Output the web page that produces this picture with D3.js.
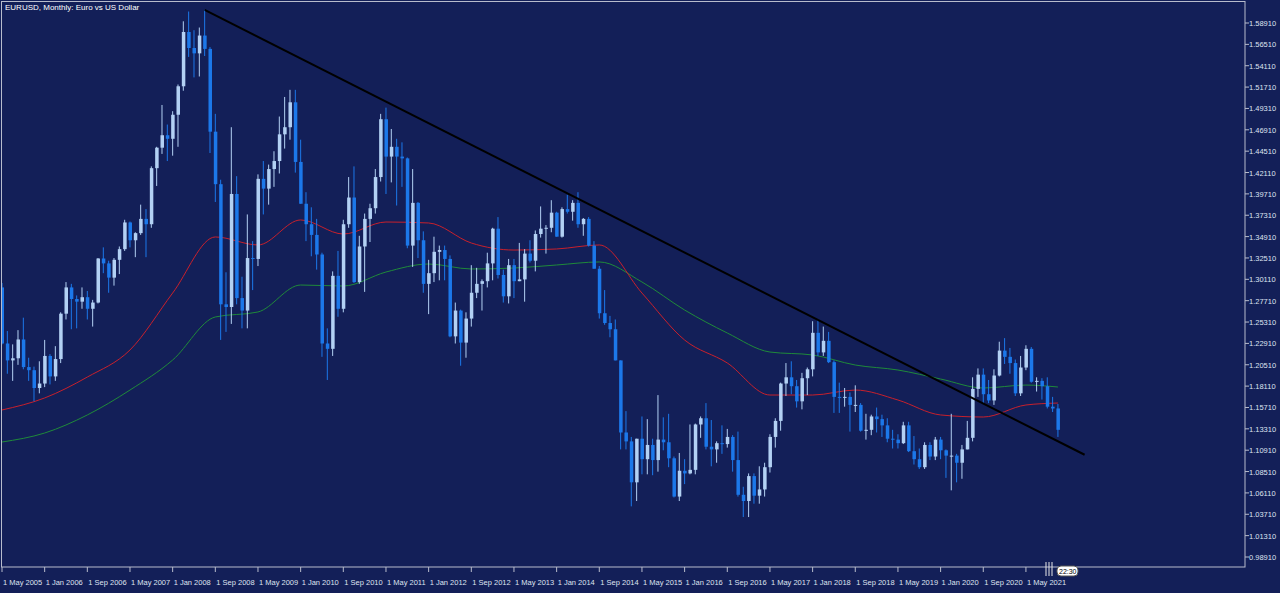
<!DOCTYPE html>
<html>
<head>
<meta charset="utf-8">
<script src="https://cdn.jsdelivr.net/npm/d3@7"></script>
<style>
  body { margin: 0; background: #131f58; }
  svg { display: block; }
  text { font-family: "Liberation Sans", Arial, sans-serif; }
</style>
</head>
<body>
<svg id="chart" width="1280" height="593"></svg>
<script>
// monthly EURUSD candles [open, high, low, close], May 2005 .. Nov 2021
const y2005 = [[1.2920,1.2970,1.2280,1.2290],[1.2290,1.2430,1.1950,1.2100],[1.2100,1.2280,1.1870,1.2124],[1.2124,1.2440,1.2050,1.2335],[1.2335,1.2580,1.2000,1.2025],[1.2025,1.2130,1.1870,1.1990],[1.1990,1.2030,1.1640,1.1790],[1.1790,1.2090,1.1730,1.1840]];
const y2006 = [[1.1840,1.2330,1.1800,1.2150],[1.2150,1.2170,1.1830,1.1920],[1.1920,1.2260,1.1870,1.2115],[1.2115,1.2640,1.2070,1.2625],[1.2625,1.2980,1.2560,1.2920],[1.2920,1.2960,1.2450,1.2790],[1.2790,1.2830,1.2460,1.2760],[1.2760,1.2920,1.2680,1.2810],[1.2810,1.2880,1.2560,1.2680],[1.2680,1.2780,1.2480,1.2750],[1.2750,1.3250,1.2740,1.3245],[1.3245,1.3370,1.3080,1.3190]];
const y2007 = [[1.3190,1.3220,1.2860,1.3030],[1.3030,1.3250,1.2940,1.3230],[1.3230,1.3380,1.3070,1.3350],[1.3350,1.3680,1.3330,1.3650],[1.3650,1.3660,1.3370,1.3450],[1.3450,1.3540,1.3260,1.3530],[1.3530,1.3850,1.3510,1.3690],[1.3690,1.3800,1.3260,1.3630],[1.3630,1.4280,1.3590,1.4260],[1.4260,1.4500,1.4060,1.4490],[1.4490,1.4970,1.4420,1.4630],[1.4630,1.4750,1.4340,1.4590]];
const y2008 = [[1.4590,1.4900,1.4400,1.4860],[1.4860,1.5200,1.4500,1.5180],[1.5180,1.5910,1.5130,1.5790],[1.5790,1.6020,1.5510,1.5610],[1.5610,1.5810,1.5280,1.5550],[1.5550,1.5840,1.5290,1.5750],[1.5750,1.6038,1.5520,1.5600],[1.5600,1.5620,1.4430,1.4670],[1.4670,1.4870,1.3880,1.4080],[1.4080,1.4130,1.2330,1.2730],[1.2730,1.3090,1.2420,1.2700],[1.2700,1.4720,1.2510,1.3970]];
const y2009 = [[1.3970,1.4170,1.2730,1.2800],[1.2800,1.3040,1.2460,1.2660],[1.2660,1.3740,1.2460,1.3250],[1.3250,1.3440,1.2890,1.3240],[1.3240,1.4190,1.3160,1.4140],[1.4140,1.4340,1.3740,1.4030],[1.4030,1.4300,1.3850,1.4250],[1.4250,1.4450,1.4050,1.4340],[1.4340,1.4840,1.4200,1.4640],[1.4640,1.5060,1.4480,1.4720],[1.4720,1.5140,1.4580,1.5000],[1.5000,1.5140,1.4210,1.4330]];
const y2010 = [[1.4330,1.4580,1.3860,1.3860],[1.3860,1.3990,1.3440,1.3630],[1.3630,1.3820,1.3270,1.3510],[1.3510,1.3690,1.3120,1.3290],[1.3290,1.3310,1.2140,1.2290],[1.2290,1.2460,1.1880,1.2230],[1.2230,1.3100,1.2150,1.3050],[1.3050,1.3330,1.2590,1.2680],[1.2680,1.3680,1.2640,1.3630],[1.3630,1.4160,1.3590,1.3930],[1.3930,1.4280,1.2970,1.2980],[1.2980,1.3500,1.2960,1.3380]];
const y2011 = [[1.3380,1.3750,1.2870,1.3690],[1.3690,1.3860,1.3430,1.3810],[1.3810,1.4250,1.3750,1.4160],[1.4160,1.4870,1.4110,1.4810],[1.4810,1.4940,1.3970,1.4390],[1.4390,1.4700,1.4100,1.4500],[1.4500,1.4590,1.3840,1.4390],[1.4390,1.4550,1.4050,1.4370],[1.4370,1.4380,1.3360,1.3390],[1.3390,1.4250,1.3150,1.3870],[1.3870,1.3880,1.3250,1.3450],[1.3450,1.3550,1.2860,1.2960]];
const y2012 = [[1.2960,1.3230,1.2620,1.3080],[1.3080,1.3490,1.2980,1.3320],[1.3320,1.3390,1.3000,1.3340],[1.3340,1.3390,1.3000,1.3240],[1.3240,1.3280,1.2360,1.2370],[1.2370,1.2750,1.2290,1.2660],[1.2660,1.2670,1.2040,1.2300],[1.2300,1.2640,1.2130,1.2570],[1.2570,1.3170,1.2480,1.2860],[1.2860,1.3140,1.2800,1.2960],[1.2960,1.3010,1.2660,1.2990],[1.2990,1.3310,1.2920,1.3190]];
const y2013 = [[1.3190,1.3590,1.3000,1.3580],[1.3580,1.3710,1.3020,1.3060],[1.3060,1.3120,1.2750,1.2820],[1.2820,1.3240,1.2740,1.3170],[1.3170,1.3240,1.2800,1.2990],[1.2990,1.3420,1.2990,1.3010],[1.3010,1.3350,1.2760,1.3300],[1.3300,1.3450,1.3200,1.3220],[1.3220,1.3560,1.3100,1.3520],[1.3520,1.3830,1.3480,1.3580],[1.3580,1.3620,1.3300,1.3590],[1.3590,1.3900,1.3540,1.3760]];
const y2014 = [[1.3760,1.3770,1.3490,1.3490],[1.3490,1.3820,1.3480,1.3800],[1.3800,1.3960,1.3750,1.3770],[1.3770,1.3900,1.3670,1.3870],[1.3870,1.3990,1.3590,1.3630],[1.3630,1.3700,1.3500,1.3690],[1.3690,1.3710,1.3380,1.3390],[1.3390,1.3440,1.3130,1.3130],[1.3130,1.3160,1.2570,1.2630],[1.2630,1.2890,1.2500,1.2520],[1.2520,1.2600,1.2360,1.2450],[1.2450,1.2560,1.2100,1.2100]];
const y2015 = [[1.2100,1.2100,1.1100,1.1290],[1.1290,1.1530,1.1100,1.1190],[1.1190,1.1240,1.0460,1.0730],[1.0730,1.1220,1.0520,1.1220],[1.1220,1.1470,1.0820,1.0990],[1.0990,1.1440,1.0820,1.1150],[1.1150,1.1220,1.0810,1.0980],[1.0980,1.1710,1.0850,1.1210],[1.1210,1.1460,1.1090,1.1180],[1.1180,1.1500,1.0900,1.1000],[1.1000,1.1020,1.0560,1.0570],[1.0570,1.1060,1.0520,1.0860]];
const y2016 = [[1.0860,1.0990,1.0710,1.0830],[1.0830,1.1380,1.0820,1.0870],[1.0870,1.1390,1.0820,1.1380],[1.1380,1.1470,1.1230,1.1450],[1.1450,1.1620,1.1100,1.1130],[1.1130,1.1430,1.0910,1.1100],[1.1100,1.1190,1.0950,1.1170],[1.1170,1.1370,1.1050,1.1160],[1.1160,1.1330,1.1120,1.1240],[1.1240,1.1260,1.0850,1.0980],[1.0980,1.1300,1.0570,1.0590],[1.0590,1.0680,1.0340,1.0520]];
const y2017 = [[1.0520,1.0830,1.0340,1.0800],[1.0800,1.0830,1.0490,1.0580],[1.0580,1.0910,1.0490,1.0650],[1.0650,1.0950,1.0570,1.0900],[1.0900,1.1270,1.0840,1.1240],[1.1240,1.1450,1.1120,1.1420],[1.1420,1.1850,1.1310,1.1840],[1.1840,1.2070,1.1700,1.1910],[1.1910,1.2090,1.1720,1.1810],[1.1810,1.1880,1.1570,1.1640],[1.1640,1.1960,1.1550,1.1900],[1.1900,1.2020,1.1710,1.2000]];
const y2018 = [[1.2000,1.2540,1.1920,1.2410],[1.2410,1.2560,1.2150,1.2190],[1.2190,1.2480,1.2150,1.2320],[1.2320,1.2420,1.2070,1.2080],[1.2080,1.2100,1.1510,1.1690],[1.1690,1.1850,1.1510,1.1680],[1.1680,1.1790,1.1580,1.1690],[1.1690,1.1740,1.1300,1.1600],[1.1600,1.1820,1.1520,1.1600],[1.1600,1.1620,1.1300,1.1310],[1.1310,1.1500,1.1210,1.1320],[1.1320,1.1490,1.1260,1.1470]];
const y2019 = [[1.1470,1.1570,1.1290,1.1440],[1.1440,1.1490,1.1240,1.1370],[1.1370,1.1450,1.1180,1.1220],[1.1220,1.1320,1.1110,1.1210],[1.1210,1.1270,1.1110,1.1170],[1.1170,1.1410,1.1160,1.1370],[1.1370,1.1410,1.1070,1.1080],[1.1080,1.1250,1.0930,1.0990],[1.0990,1.1110,1.0880,1.0900],[1.0900,1.1180,1.0880,1.1150],[1.1150,1.1180,1.0980,1.1020],[1.1020,1.1240,1.0980,1.1210]];
const y2020 = [[1.1210,1.1240,1.0990,1.1090],[1.1090,1.1100,1.0780,1.1030],[1.1030,1.1500,1.0640,1.1030],[1.1030,1.1050,1.0730,1.0950],[1.0950,1.1150,1.0770,1.1100],[1.1100,1.1420,1.1100,1.1230],[1.1230,1.1910,1.1190,1.1780],[1.1780,1.2010,1.1690,1.1940],[1.1940,1.2010,1.1610,1.1720],[1.1720,1.1880,1.1620,1.1650],[1.1650,1.2000,1.1600,1.1930],[1.1930,1.2310,1.1920,1.2210]];
const y2021 = [[1.2210,1.2350,1.2060,1.2140],[1.2140,1.2240,1.1950,1.2070],[1.2070,1.2110,1.1700,1.1730],[1.1730,1.2150,1.1700,1.2020],[1.2020,1.2270,1.1990,1.2230],[1.2230,1.2250,1.1850,1.1860],[1.1860,1.1910,1.1750,1.1870],[1.1870,1.1900,1.1660,1.1810],[1.1810,1.1910,1.1560,1.1580],[1.1580,1.1690,1.1520,1.1560],[1.1560,1.1610,1.1240,1.1320]];

// moving averages at bars 0, 8, 16 ... 192 and the last bar 198
const maBars = [0,8,16,24,32,40,48,56,64,72,80,88,96,104,112,120,128,136,144,152,160,168,176,184,192,198];
const maRed = [1.1543,1.1678,1.1913,1.2217,1.2857,1.3487,1.3397,1.3678,1.3520,1.3655,1.3644,1.3419,1.3340,1.3352,1.3397,1.2857,1.2329,1.2071,1.1711,1.1711,1.1767,1.1655,1.1487,1.1464,1.1599,1.1621];
const maGreen = [1.1183,1.1284,1.1487,1.1767,1.2104,1.2588,1.2644,1.2947,1.2936,1.3093,1.3183,1.3127,1.3138,1.3172,1.3206,1.2981,1.2666,1.2408,1.2194,1.2161,1.2048,1.1992,1.1891,1.1790,1.1823,1.1801];

const timeLabels = ["1 May 2005","1 Jan 2006","1 Sep 2006","1 May 2007","1 Jan 2008","1 Sep 2008","1 May 2009","1 Jan 2010","1 Sep 2010","1 May 2011","1 Jan 2012","1 Sep 2012","1 May 2013","1 Jan 2014","1 Sep 2014","1 May 2015","1 Jan 2016","1 Sep 2016","1 May 2017","1 Jan 2018","1 Sep 2018","1 May 2019","1 Jan 2020","1 Sep 2020","1 May 2021"];
const priceTicks = [0.9891,1.0131,1.0371,1.0611,1.0851,1.1091,1.1331,1.1571,1.1811,1.2051,1.2291,1.2531,1.2771,1.3011,1.3251,1.3491,1.3731,1.3971,1.4211,1.4451,1.4691,1.4931,1.5171,1.5411,1.5651,1.5891];
// trend line anchors: [bar index, price]
const trendLine = [[38, 1.6038], [203, 1.1040]];

const candles = [].concat(y2005,y2006,y2007,y2008,y2009,y2010,y2011,y2012,y2013,y2014,y2015,y2016,y2017,y2018,y2019,y2020,y2021)
  .map((d, i) => ({ i, o: d[0], h: d[1], l: d[2], c: d[3] }));

const svg = d3.select("#chart");
const W = 1245, H = 567;

const x = d3.scaleLinear().domain([0, 198]).range([2, 2 + 198 * 5.333]);
const y = d3.scaleLinear().domain([0.9891, 1.5891]).range([557, 23]);

svg.append("rect").attr("x", 1.5).attr("y", 1.5).attr("width", W - 1.5).attr("height", H - 1.5)
  .attr("fill", "#131f58").attr("stroke", "#b8bccc");

svg.append("clipPath").attr("id", "clip").append("rect").attr("x", 2).attr("y", 2).attr("width", W - 2).attr("height", H - 2);
const plot = svg.append("g").attr("clip-path", "url(#clip)");

const line = d3.line().x(d => x(d[0])).y(d => y(d[1]));
const maLine = d3.line().x(d => x(d[0])).y(d => y(d[1])).curve(d3.curveMonotoneX);
plot.append("path").datum(d3.zip(maBars, maGreen)).attr("d", maLine).attr("fill", "none").attr("stroke", "#1f8a3a").attr("stroke-width", 1);
plot.append("path").datum(d3.zip(maBars, maRed)).attr("d", maLine).attr("fill", "none").attr("stroke", "#c8202c").attr("stroke-width", 1);

// candles
const bull = "#b3d1f4", bear = "#1c78ea";
const g = plot.selectAll(".c").data(candles).join("g");
g.append("line").attr("x1", d => x(d.i)).attr("x2", d => x(d.i))
  .attr("y1", d => y(d.h)).attr("y2", d => y(d.l))
  .attr("stroke", d => d.c >= d.o ? bull : bear).attr("stroke-width", 1);
g.append("rect").attr("x", d => x(d.i) - 1.5).attr("width", 3.5)
  .attr("y", d => y(Math.max(d.o, d.c))).attr("height", d => Math.max(1, Math.abs(y(d.o) - y(d.c))))
  .attr("fill", d => d.c >= d.o ? bull : bear);

// trend line
plot.append("path").datum(trendLine).attr("d", line).attr("stroke", "#000").attr("stroke-width", 2).attr("fill", "none");

// price axis
const ya = svg.append("g");
priceTicks.forEach(p => {
  ya.append("line").attr("x1", W).attr("x2", W + 4).attr("y1", y(p)).attr("y2", y(p)).attr("stroke", "#b8bccc");
  ya.append("text").attr("x", W + 4).attr("y", y(p) + 3).attr("fill", "#dfe3f0").attr("font-size", 7.5).text(p.toFixed(5));
});

// time axis: a label every 8 bars
timeLabels.forEach((t, k) => {
  const xx = x(k * 8);
  svg.append("line").attr("x1", xx).attr("x2", xx).attr("y1", H).attr("y2", H + 5).attr("stroke", "#b8bccc");
  svg.append("text").attr("x", xx + 1).attr("y", H + 18).attr("fill", "#dfe3f0").attr("font-size", 7.5).text(t);
});

// countdown marker
[1046, 1049, 1052].forEach(xx => svg.append("line").attr("x1", xx).attr("x2", xx).attr("y1", 562).attr("y2", 576).attr("stroke", "#e8e8e8"));
svg.append("rect").attr("x", 1057).attr("y", 566).attr("width", 21).attr("height", 10).attr("rx", 4).attr("fill", "#fff").attr("stroke", "#555");
svg.append("text").attr("x", 1059).attr("y", 574).attr("font-size", 7).attr("fill", "#000").text("22:30");

svg.append("text").attr("x", 5).attr("y", 10).attr("fill", "#ffffff").attr("font-size", 8).text("EURUSD, Monthly:  Euro vs US Dollar");
</script>
</body>
</html>
